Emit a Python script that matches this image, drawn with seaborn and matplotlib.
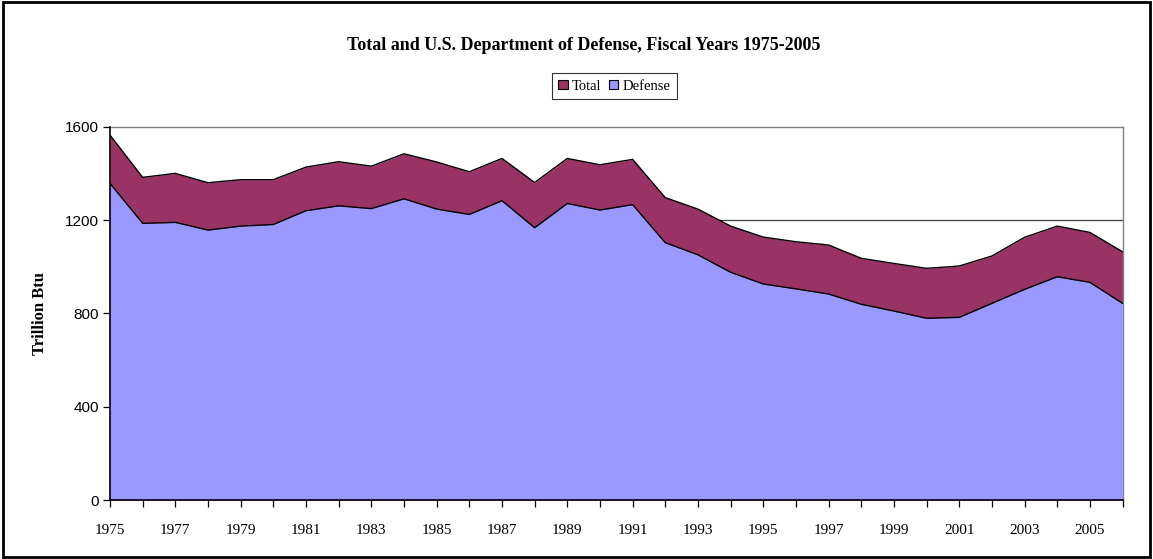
import matplotlib
matplotlib.use("Agg")
import matplotlib.pyplot as plt
import seaborn as sns
import pandas as pd
import numpy as np
from matplotlib.patches import Patch, Rectangle

years = list(range(1975, 2007))
total = [1564, 1383, 1400, 1360, 1373, 1373, 1427, 1450, 1431, 1484, 1449,
         1407, 1464, 1361, 1464, 1437, 1460, 1296, 1247, 1174, 1127, 1107,
         1093, 1036, 1014, 993, 1003, 1046, 1126, 1174, 1147, 1064]
defense = [1357, 1186, 1190, 1157, 1174, 1181, 1240, 1261, 1249, 1291, 1247,
           1224, 1283, 1167, 1271, 1243, 1266, 1103, 1051, 976, 926, 905,
           883, 839, 810, 779, 783, 843, 903, 957, 933, 843]
yticks = [0, 400, 800, 1200, 1600]
xlabels = [str(y) for y in range(1975, 2006, 2)]

df = pd.DataFrame({"Year": years, "Total": total, "Defense": defense})

sns.set_theme(style="white")
plt.rcParams["font.family"] = ["Liberation Serif", "DejaVu Serif"]
plt.rcParams.update({"text.color": "black", "axes.labelcolor": "black",
                     "xtick.color": "black", "ytick.color": "black"})

fig = plt.figure(figsize=(11.53, 5.59), dpi=100)
ax = fig.add_axes([0.0954, 0.1055, 0.8782, 0.6678])

# gridlines behind
for v in yticks[1:-1]:
    ax.axhline(v, color="#404040", lw=0.9, zorder=0)

ax.fill_between(df["Year"], 0, df["Total"], color="#993366", zorder=1, lw=0)
sns.lineplot(data=df, x="Year", y="Total", ax=ax, color="black", lw=1.0, zorder=2)
ax.fill_between(df["Year"], 0, df["Defense"], color="#9999FF", zorder=3, lw=0)
sns.lineplot(data=df, x="Year", y="Defense", ax=ax, color="black", lw=1.0, zorder=4)

ax.set_xlim(1975, 2006)
ax.set_ylim(0, 1600)
ax.set_yticks(yticks)
ax.set_yticklabels([str(v) for v in yticks], fontfamily="Liberation Sans", fontsize=11)
ax.set_xticks(years)
ax.set_xticklabels([str(y) if str(y) in xlabels else "" for y in years], fontsize=11)
ax.tick_params(axis="both", which="both", direction="out", length=5, width=0.9,
               color="black", labelcolor="black", bottom=True, left=True)
ax.tick_params(axis="x", pad=12)
ax.tick_params(axis="y", pad=3)
ax.set_xlabel("")
ax.set_ylabel("Trillion Btu", fontsize=12, fontweight="bold", labelpad=12, color="black")

for s in ["top", "right"]:
    ax.spines[s].set_color("#808080")
    ax.spines[s].set_linewidth(1.0)
for s in ["left", "bottom"]:
    ax.spines[s].set_color("black")
    ax.spines[s].set_linewidth(1.2)
    ax.spines[s].set_zorder(5)

fig.text(583.5 / 1153, 1 - 49.5 / 559,
         "Total and U.S. Department of Defense, Fiscal Years 1975-2005",
         ha="center", va="baseline", fontsize=13, fontweight="bold", color="black")

handles = [Patch(facecolor="#993366", edgecolor="black", lw=0.8, label="Total"),
           Patch(facecolor="#9999FF", edgecolor="black", lw=0.8, label="Defense")]
leg = fig.legend(handles=handles, loc="center", bbox_to_anchor=(614.5 / 1153, 1 - 86 / 559),
                 ncol=2, frameon=True, fancybox=False, fontsize=10.5,
                 handlelength=0.65, handleheight=0.65, handletextpad=0.3,
                 columnspacing=0.5, borderpad=0.45, borderaxespad=0)
leg.get_frame().set_edgecolor("black")
leg.get_frame().set_linewidth(0.8)
for t in leg.get_texts():
    t.set_color("black")

fig.patches.append(Rectangle((0.003, 0.004), 0.994, 0.992, transform=fig.transFigure,
                             fill=False, edgecolor="black", lw=2))

fig.savefig("out.png", dpi=100)
